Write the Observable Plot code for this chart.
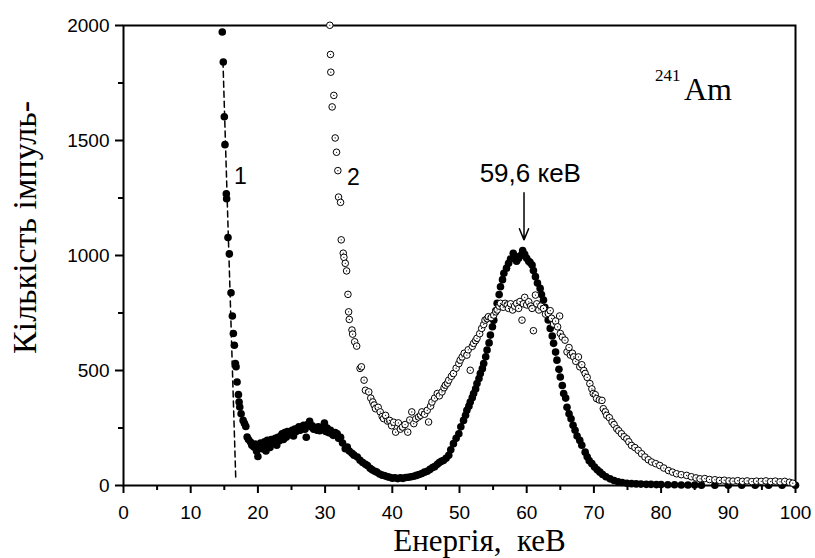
<!DOCTYPE html>
<html>
<head>
<meta charset="utf-8">
<script src="https://cdn.jsdelivr.net/npm/d3@7"></script>
<script src="https://cdn.jsdelivr.net/npm/@observablehq/plot@0.6"></script>
<style>
  html, body { margin: 0; padding: 0; background: white; }
  g[aria-label$="tick"] path { stroke-width: 2px; stroke: black; }
  g[aria-label="frame"] rect, g[aria-label="frame"] { stroke-width: 2px; stroke: black; }
</style>
</head>
<body>
<div id="chart"></div>
<script>
// Series 1 (filled dots)
const energy1 = [14.7,14.85,15.0,15.1,15.3,15.35,15.55,15.75,16.0,16.2,16.35,16.5,16.65,16.75,16.9,17.1,17.2,17.3,17.5,17.8,18.0,18.2,18.4,18.6,18.9,19.1,19.4,19.6,19.8,20.0,20.2,20.4,20.6,20.8,21.0,21.2,21.4,21.6,21.8,22.0,22.2,22.4,22.6,22.8,23.0,23.2,23.4,23.6,23.8,24.0,24.2,24.4,24.6,24.9,25.1,25.3,25.5,25.7,25.9,26.1,26.3,26.6,26.8,27.0,27.2,27.4,27.7,27.9,28.1,28.3,28.6,28.8,29.0,29.2,29.4,29.6,29.9,30.1,30.3,30.5,30.8,31.0,31.2,31.5,31.8,32.0,32.3,32.6,33.0,33.3,33.6,34.0,34.3,34.8,35.2,35.6,36.0,36.3,36.7,37.0,37.4,37.7,38.1,38.5,38.9,39.3,39.6,40.0,40.4,40.8,41.2,41.6,42.0,42.4,42.8,43.2,43.6,44.0,44.4,44.8,45.2,45.6,46.0,46.3,46.7,47.0,47.3,47.6,48.0,48.4,48.7,49.1,49.5,49.9,50.2,50.6,50.9,51.1,51.4,51.6,51.9,52.1,52.4,52.6,52.9,53.1,53.4,53.6,53.9,54.1,54.4,54.6,54.9,55.1,55.4,55.6,55.9,56.1,56.4,56.6,57.0,57.3,57.6,58.0,58.3,58.5,58.8,59.1,59.4,59.7,60.0,60.3,60.5,60.8,61.0,61.3,61.6,62.0,62.2,62.5,62.7,63.0,63.2,63.5,63.8,64.0,64.3,64.5,64.8,65.0,65.3,65.5,65.8,66.0,66.3,66.6,66.9,67.2,67.5,67.9,68.2,68.7,69.0,69.3,69.7,70.1,70.5,70.9,71.3,71.8,72.4,73.0,73.6,74.2,74.9,75.6,76.3,77.0,77.8,78.5,79.3,80.0,81,82,83,84,85,86,88,90,92,94,96,98,100];
const counts1 = [1972,1841,1603,1482,1268,1247,1078,1007,838,737,661,610,530,516,450,395,363,341,312,283,270,257,211,200,189,175,167,180,150,126,170,185,160,175,190,150,196,180,165,200,185,196,205,175,210,195,215,225,200,230,210,235,220,225,240,215,245,235,247,255,240,254,262,245,210,265,279,255,260,245,250,240,255,238,250,245,272,235,250,230,240,225,218,230,225,205,210,185,160,167,150,140,132,124,110,100,92,87,75,68,62,58,50,45,42,38,36,32,34,30,33,31,35,36,38,40,44,48,52,58,62,70,78,82,92,100,105,109,118,131,155,182,205,225,255,283,305,327,345,363,382,400,420,443,465,487,508,530,560,589,620,654,690,719,760,792,830,864,895,923,945,966,985,1010,995,975,988,1000,1021,1005,988,975,970,959,935,908,880,857,830,806,775,748,720,683,650,618,580,545,505,472,435,400,380,340,312,290,262,240,215,196,175,145,125,108,95,80,68,58,48,38,29,22,16,13,10,8,7,6,5,5,4,4,3,3,2,2,2,1,1,1,1,1,1,1,1];

// Series 2 (open circles)
const energy2 = [30.7,30.8,30.85,31.05,31.3,31.5,31.7,31.9,32.0,32.3,32.4,32.7,32.8,33.0,33.2,33.4,33.5,33.6,34.0,34.1,34.4,34.7,35.2,35.4,35.8,36.0,36.5,36.8,37.1,37.3,37.5,37.9,38.2,38.5,38.7,39.0,39.3,39.6,39.9,40.2,40.5,40.9,41.2,41.5,41.9,42.3,42.6,42.9,43.2,43.5,43.9,44.2,44.4,44.8,45.2,45.4,45.7,45.9,46.3,46.7,47.0,47.4,47.7,47.9,48.2,48.4,48.8,49.1,49.5,49.9,50.1,50.4,50.7,51.1,51.3,51.6,51.9,52.1,52.4,52.6,53.0,53.3,53.6,53.8,54.1,54.3,54.7,55.1,55.4,55.6,55.9,56.1,56.5,56.8,57.1,57.3,57.6,57.9,58.2,58.5,58.8,59.0,59.3,59.5,59.7,60.0,60.3,60.6,60.8,61.0,61.3,61.5,61.8,62.1,62.5,62.8,63.2,63.5,63.7,64.0,64.3,64.6,64.9,65.0,65.3,65.7,66.0,66.3,66.5,66.8,67.0,67.3,67.7,67.9,68.2,68.5,68.7,69.0,69.4,69.7,69.9,70.2,70.4,70.8,71.2,71.4,71.7,71.9,72.3,72.7,73.0,73.4,73.7,74.1,74.5,74.9,75.2,75.6,76.1,76.6,77.1,77.6,78.1,78.6,79.2,79.8,80.4,81.1,81.7,82.3,83.0,83.8,84.5,85.2,85.8,86.5,87.2,88.0,88.7,89.4,90.1,90.7,91.4,92.1,92.8,93.5,94.2,94.9,95.6,96.3,97.0,97.7,98.4,99.1,99.6];
const counts2 = [2001,1874,1797,1646,1696,1511,1449,1369,1254,1231,1068,1010,992,966,933,831,755,722,676,658,625,606,509,516,458,414,407,380,363,350,334,340,320,300,291,305,280,283,260,275,232,272,245,254,265,232,285,320,269,290,298,305,320,310,327,276,345,363,380,400,390,407,425,436,445,458,475,487,510,530,545,559,575,567,590,501,605,618,630,640,660,683,700,719,725,734,730,741,755,763,780,792,775,792,785,770,790,763,780,792,770,800,719,790,818,785,799,780,770,673,828,790,763,780,770,745,748,760,727,702,715,690,737,661,645,632,581,600,567,575,559,540,559,516,525,500,487,470,443,420,400,395,378,372,370,334,320,305,295,276,265,247,238,225,212,203,190,174,165,153,138,124,112,102,95,87,76,65,58,51,47,44,38,33,29,30,26,25,22,23,20,19,21,18,20,17,19,18,20,17,19,16,18,14,10];

// Fitted dashed line for curve 1
const fitEnergy = [14.8, 16.7];
const fitCounts = [1845, 35];

// Ticks
const xTicks = [0,10,20,30,40,50,60,70,80,90,100];
const xMinor = [5,15,25,35,45,55,65,75,85,95];
const yTicks = [0,500,1000,1500,2000];
const yMinor = [250,750,1250,1750];

// Text
const yTitle = "Кількість імпуль-";
const xTitle = "Енергія,\u00a0\u00a0кеВ";
const curveLabels = [{t: "1", e: 17.4, c: 1312}, {t: "2", e: 34.2, c: 1308}];
const peakLabel = [{t: "59,6 кеВ", e: 53.0, c: 1321}];
const peakArrow = [{e: 59.6, c1: 1273, c2: 1068}];
const isoMass = [{t: "241", e: 79.1, c: 1757}];
const isoSym = [{t: "Am", e: 83.4, c: 1678}];

const s1 = energy1.map((e, i) => ({e, c: counts1[i]}));
const s2 = energy2.map((e, i) => ({e, c: counts2[i]}));
const fit = fitEnergy.map((e, i) => ({e, c: fitCounts[i]}));

const serif = "'Liberation Serif', 'Times New Roman', serif";

const chart = Plot.plot({
  width: 815,
  height: 558,
  marginLeft: 123,
  marginRight: 20,
  marginTop: 25,
  marginBottom: 73,
  x: {domain: [0, 100]},
  y: {domain: [0, 2000]},
  style: {fontFamily: "'Liberation Sans', Arial, sans-serif", fontSize: "19px", color: "black", background: "white", overflow: "visible"},
  marks: [
    Plot.axisX({ticks: xTicks, tickSize: 8, tickPadding: 12, strokeWidth: 2, label: null, fontSize: 19, tickFormat: d => String(d)}),
    Plot.axisX({ticks: xMinor, tickSize: 5, strokeWidth: 2, text: null, label: null}),
    Plot.axisY({ticks: yTicks, tickSize: 8, tickPadding: 6, strokeWidth: 2, label: null, fontSize: 19, tickFormat: d => String(d)}),
    Plot.axisY({ticks: yMinor, tickSize: 5, strokeWidth: 2, text: null, label: null}),
    Plot.frame({stroke: "black", strokeWidth: 2}),
    Plot.line(fit, {x: "e", y: "c", stroke: "black", strokeWidth: 1.5, strokeDasharray: "6,4"}),
    Plot.dot(s1, {x: "e", y: "c", r: 3.8, fill: "black"}),
    Plot.dot(s2, {x: "e", y: "c", r: 3.3, fill: "white", stroke: "black", strokeWidth: 1}),
    Plot.dot(s2, {x: "e", y: "c", r: 0.6, fill: "black"}),
    Plot.arrow(peakArrow, {x1: "e", x2: "e", y1: "c1", y2: "c2", stroke: "black", strokeWidth: 1.5, headLength: 12, headAngle: 45}),
    Plot.text(curveLabels, {x: "e", y: "c", text: "t", fontSize: 23, lineAnchor: "bottom", textAnchor: "middle", fill: "black"}),
    Plot.text(peakLabel, {x: "e", y: "c", text: "t", fontSize: 26, lineAnchor: "bottom", textAnchor: "start", fill: "black"}),
    Plot.text(isoMass, {x: "e", y: "c", text: "t", fontSize: 17, lineAnchor: "bottom", textAnchor: "start", fontFamily: serif, fill: "black"}),
    Plot.text(isoSym, {x: "e", y: "c", text: "t", fontSize: 32, lineAnchor: "bottom", textAnchor: "start", fontFamily: serif, fill: "black"}),
    Plot.text([yTitle], {frameAnchor: "left", text: d => d, rotate: -90, dx: -88, dy: -28, lineAnchor: "bottom", textAnchor: "middle", fontSize: 34, fontFamily: serif, fill: "black"}),
    Plot.text([xTitle], {frameAnchor: "bottom", text: d => d, dx: 20, dy: 65, lineAnchor: "bottom", textAnchor: "middle", fontSize: 31, fontFamily: serif, fill: "black", letterSpacing: 0.8})
  ]
});
document.getElementById("chart").appendChild(chart);
</script>
</body>
</html>
